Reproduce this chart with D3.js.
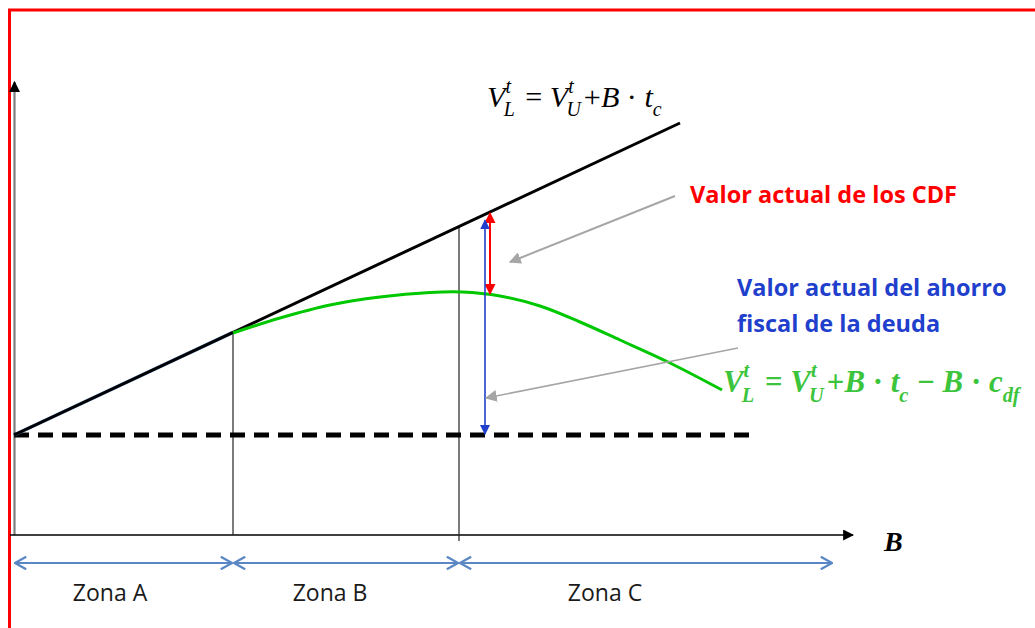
<!DOCTYPE html>
<html>
<head>
<meta charset="utf-8">
<script src="https://cdn.jsdelivr.net/npm/d3@7"></script>
<style>
  body { margin: 0; background: #fff; }
  svg { display: block; }
  .lbl { font-family: "Open Sans", Lato, sans-serif; }
  .math { font-family: "Liberation Serif", "DejaVu Serif", serif; font-style: italic; }
</style>
</head>
<body>
<svg id="chart" width="1035" height="628"></svg>
<script>
// data (B on x, value on y)
var baseValue = 100;                       // V_U^t, dashed line
var leveredLine = [[0, 100], [666, 412]];  // V_L = V_U + B*tc
var greenB =   [219, 266, 316, 366, 416, 448, 486, 526, 566, 606, 654, 708];
var greenVal = [202, 217, 230, 238, 242.5, 243, 239, 229, 213, 195, 173, 145];
var zoneBounds = [0, 219, 445, 819];
var zoneNames = ["Zona A", "Zona B", "Zona C"];
var zoneLabelAt = [96, 316, 591];
var cdfB = 476, ahorroB = 471;

var svg = d3.select("#chart");
var x = d3.scaleLinear().domain([0, 840]).range([14, 854]);
var y = d3.scaleLinear().domain([0, 450]).range([535, 85]);

var defs = svg.append("defs");
function marker(id, color, size, open) {
  var m = defs.append("marker")
    .attr("id", id)
    .attr("viewBox", "0 -5 10 10")
    .attr("refX", 9).attr("refY", 0)
    .attr("markerWidth", size).attr("markerHeight", size)
    .attr("markerUnits", "userSpaceOnUse")
    .attr("orient", "auto-start-reverse");
  if (open) {
    m.append("path").attr("d", "M1,-4.5L9,0L1,4.5").attr("fill", "none")
      .attr("stroke", color).attr("stroke-width", 1.6);
  } else {
    m.append("path").attr("d", "M0,-5L10,0L0,5Z").attr("fill", color);
  }
}
marker("ar-black", "#000", 11, false);
marker("ar-red", "#ff0000", 11, false);
marker("ar-blue", "#1f3fcc", 10, false);
marker("ar-gray", "#a6a6a6", 12, false);
marker("ar-zone", "#5b87c5", 14, true);

// red frame
svg.append("line").attr("x1", 8).attr("x2", 1035).attr("y1", 10).attr("y2", 10)
  .attr("stroke", "#ff0000").attr("stroke-width", 3);
svg.append("line").attr("x1", 9.5).attr("x2", 9.5).attr("y1", 9).attr("y2", 628)
  .attr("stroke", "#ff0000").attr("stroke-width", 3);

// axes
svg.append("line").attr("x1", x(0) + 0.5).attr("x2", x(0) + 0.5)
  .attr("y1", y(0)).attr("y2", 82)
  .attr("stroke", "#7f7f7f").attr("stroke-width", 2.2)
  .attr("marker-end", "url(#ar-black)");
svg.append("line").attr("x1", 10).attr("x2", x(839))
  .attr("y1", y(0)).attr("y2", y(0))
  .attr("stroke", "#000").attr("stroke-width", 1.5)
  .attr("marker-end", "url(#ar-black)");
svg.append("text").attr("class", "math")
  .attr("x", 884).attr("y", 551)
  .attr("font-size", 28).attr("font-weight", "bold")
  .text("B");

var slope = (leveredLine[1][1] - leveredLine[0][1]) / leveredLine[1][0];

// zone boundaries
svg.append("line").attr("x1", x(zoneBounds[1])).attr("x2", x(zoneBounds[1]))
  .attr("y1", y(greenVal[0])).attr("y2", y(0))
  .attr("stroke", "#222").attr("stroke-width", 1.2);
svg.append("line").attr("x1", x(zoneBounds[2])).attr("x2", x(zoneBounds[2]))
  .attr("y1", y(baseValue + slope * zoneBounds[2])).attr("y2", y(0) + 6)
  .attr("stroke", "#222").attr("stroke-width", 1.2);

// dashed V_U line
svg.append("line").attr("x1", x(0)).attr("x2", x(744))
  .attr("y1", y(baseValue)).attr("y2", y(baseValue))
  .attr("stroke", "#000").attr("stroke-width", 5)
  .attr("stroke-dasharray", "15,9");

// blue underline in zone A
var lineFn = d3.line().x(function(d) { return x(d[0]); }).y(function(d) { return y(d[1]); });
svg.append("path")
  .datum([[0, baseValue], [zoneBounds[1], baseValue + slope * zoneBounds[1]]])
  .attr("d", lineFn).attr("fill", "none")
  .attr("stroke", "#4a7ab5").attr("stroke-width", 3.5);

// levered value line
svg.append("path").datum(leveredLine).attr("d", lineFn)
  .attr("fill", "none").attr("stroke", "#000").attr("stroke-width", 3);

// green curve
var greenData = greenB.map(function(b, i) { return [b, greenVal[i]]; });
svg.append("path").datum(greenData)
  .attr("d", lineFn.curve(d3.curveCatmullRom))
  .attr("fill", "none").attr("stroke", "#00c800").attr("stroke-width", 3);

// value arrows
var cdfTop = baseValue + slope * cdfB;
var greenAt = d3.scaleLinear().domain(greenB).range(greenVal);
svg.append("line").attr("x1", x(cdfB)).attr("x2", x(cdfB))
  .attr("y1", y(cdfTop) + 1).attr("y2", y(greenAt(cdfB)) - 1)
  .attr("stroke", "#ff0000").attr("stroke-width", 2)
  .attr("marker-start", "url(#ar-red)").attr("marker-end", "url(#ar-red)");
svg.append("line").attr("x1", x(ahorroB)).attr("x2", x(ahorroB))
  .attr("y1", y(baseValue + slope * ahorroB) + 6).attr("y2", y(baseValue) - 1)
  .attr("stroke", "#1f3fcc").attr("stroke-width", 1.6)
  .attr("marker-start", "url(#ar-blue)").attr("marker-end", "url(#ar-blue)");

// gray pointer arrows
svg.append("line").attr("x1", 675).attr("y1", 196).attr("x2", 510).attr("y2", 262)
  .attr("stroke", "#a6a6a6").attr("stroke-width", 2).attr("marker-end", "url(#ar-gray)");
svg.append("line").attr("x1", 738).attr("y1", 348).attr("x2", x(ahorroB) + 1).attr("y2", 398)
  .attr("stroke", "#a6a6a6").attr("stroke-width", 1.6).attr("marker-end", "url(#ar-gray)");

// zone arrows and labels
zoneNames.forEach(function(name, i) {
  var a = zoneBounds[i], b = zoneBounds[i + 1];
  svg.append("line").attr("x1", x(a) + 1).attr("x2", x(b) - 1)
    .attr("y1", 563).attr("y2", 563)
    .attr("stroke", "#5b87c5").attr("stroke-width", 1.8)
    .attr("marker-start", "url(#ar-zone)").attr("marker-end", "url(#ar-zone)");
  svg.append("text").attr("class", "lbl")
    .attr("x", x(zoneLabelAt[i])).attr("y", 601)
    .attr("text-anchor", "middle").attr("font-size", 23).attr("fill", "#1a1a1a")
    .text(name);
});

// text annotations
svg.append("text").attr("class", "lbl").attr("x", 690).attr("y", 203)
  .attr("font-size", 23.5).attr("font-weight", "bold").attr("fill", "#ff0000")
  .text("Valor actual de los CDF");
svg.append("text").attr("class", "lbl").attr("x", 737).attr("y", 296)
  .attr("font-size", 23.5).attr("font-weight", "bold").attr("fill", "#1f3fcc")
  .text("Valor actual del ahorro");
svg.append("text").attr("class", "lbl").attr("x", 737).attr("y", 332)
  .attr("font-size", 23.5).attr("font-weight", "bold").attr("fill", "#1f3fcc")
  .text("fiscal de la deuda");

// formulas: one text element, tspans placed piece by piece, scaled to a target width
function formula(x0, y0, items, color, bold, targetW) {
  var t = svg.append("text").attr("class", "math").attr("fill", color)
    .attr("font-weight", bold ? "bold" : "normal").attr("xml:space", "preserve");
  function draw(size) {
    t.selectAll("*").remove();
    var cx = x0;
    items.forEach(function(it) {
      if (it.t != null) {
        var s = t.append("tspan").attr("x", cx).attr("y", y0)
          .attr("font-size", size).style("font-style", it.up ? "normal" : "italic").text(it.t);
        cx += s.node().getComputedTextLength();
      } else {
        var w = 0;
        if (it.sup) {
          var a = t.append("tspan").attr("x", cx).attr("y", y0 - size * 0.48)
            .attr("font-size", size * 0.66).text(it.sup);
          w = Math.max(w, a.node().getComputedTextLength());
        }
        if (it.sub) {
          var b = t.append("tspan").attr("x", cx - (it.sup ? size * 0.06 : 0))
            .attr("y", y0 + size * 0.31).attr("font-size", size * 0.66).text(it.sub);
          w = Math.max(w, b.node().getComputedTextLength());
        }
        cx += w + size * 0.04;
      }
    });
    return cx - x0;
  }
  var w = draw(24);
  draw(24 * targetW / w);
}

formula(487, 107, [
  {t: "V"}, {sup: "t", sub: "L"}, {t: " = ", up: true}, {t: "V"}, {sup: "t", sub: "U"},
  {t: "+", up: true}, {t: "B"}, {t: " · ", up: true}, {t: "t"}, {sub: "c"}
], "#000", false, 176);

formula(723, 392, [
  {t: "V"}, {sup: "t", sub: "L"}, {t: " = ", up: true}, {t: "V"}, {sup: "t", sub: "U"},
  {t: "+", up: true}, {t: "B"}, {t: " · ", up: true}, {t: "t"}, {sub: "c"},
  {t: " − ", up: true}, {t: "B"}, {t: " · ", up: true}, {t: "c"}, {sub: "df"}
], "#3cc43c", true, 298);
</script>
</body>
</html>
